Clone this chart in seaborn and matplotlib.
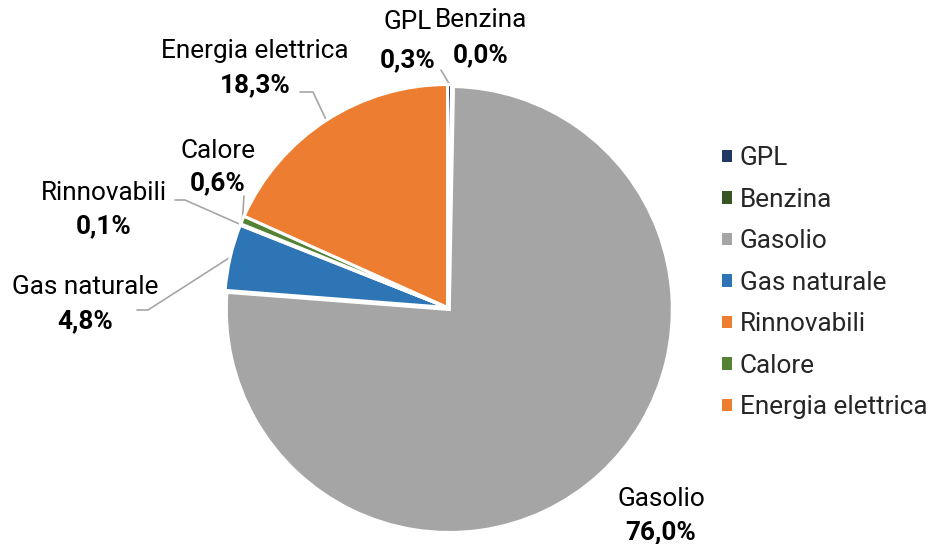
import matplotlib
matplotlib.use("Agg")
import matplotlib.pyplot as plt
import matplotlib.patches as mpatches
import numpy as np
import seaborn as sns

# Quota dei consumi energetici per fonte (%)
categories = ["GPL", "Benzina", "Gasolio", "Gas naturale", "Rinnovabili", "Calore", "Energia elettrica"]
shares = [0.3, 0.0, 76.0, 4.8, 0.1, 0.6, 18.3]
value_labels = ["0,3%", "0,0%", "76,0%", "4,8%", "0,1%", "0,6%", "18,3%"]
colors = ["#203864", "#375623", "#A5A5A5", "#2E75B6", "#ED7D31", "#548235", "#ED7D31"]

sns.set_theme(style="white")
plt.rcParams["font.family"] = ["Roboto", "DejaVu Sans"]

W, H = 933, 544
fig = plt.figure(figsize=(W / 100, H / 100), dpi=100)
cx, cy, R = 447.5, 307.5, 223  # pie centre and radius in pixels
ax = fig.add_axes([(cx - R) / W, (H - cy - R) / H, 2 * R / W, 2 * R / H])
ax.axis("off")

explode = [0.012 if c == "Gasolio" else 0 for c in categories]
wedges, _ = ax.pie(shares, colors=colors, startangle=90, counterclock=False,
                   radius=1, center=(0, 0), explode=explode,
                   wedgeprops=dict(edgecolor="white", linewidth=2.2))
ax.set_xlim(-1, 1)
ax.set_ylim(-1, 1)


def px(x, y):
    """pixel position -> data coordinates of the pie axes"""
    return (x - cx) / R, (cy - y) / R


# label layout: name centre (px), value centre (px), leader path start points (px)
layout = {
    "GPL": ((408, 22), (408, 60), [(441, 70)]),
    "Benzina": ((481, 20), (481, 55), None),
    "Gasolio": ((661, 499), (661, 532), None),
    "Gas naturale": ((85, 287), (85, 321), [(137, 310), (148, 310)]),
    "Rinnovabili": ((104, 193), (104, 226), [(175, 200), (185, 200)]),
    "Calore": ((218, 151), (218, 183), [(244, 196)]),
    "Energia elettrica": ((255, 51), (255, 85), [(300, 92), (313, 92)]),
}

fs = 18.8
for w, name, val in zip(wedges, categories, value_labels):
    (nx, ny), (vx, vy), path = layout[name]
    ax.text(*px(nx, ny), name, ha="center", va="center", fontsize=fs, color="#000000")
    ax.text(*px(vx, vy), val, ha="center", va="center", fontsize=fs, fontweight="bold", color="#000000")
    if path:
        mid = np.deg2rad((w.theta1 + w.theta2) / 2)
        ex, ey = np.cos(mid), np.sin(mid)
        xs = [px(*p)[0] for p in path] + [ex]
        ys = [px(*p)[1] for p in path] + [ey]
        ax.plot(xs, ys, color="#A6A6A6", lw=1.2, clip_on=False, zorder=0)

handles = [mpatches.Patch(facecolor=c, edgecolor="none") for c in colors]
fig.legend(handles, categories, loc="upper left", bbox_to_anchor=(712 / W, 1 - 136 / H),
           frameon=False, fontsize=fs, handlelength=0.36, handleheight=0.36,
           handletextpad=0.3, labelspacing=0.67, borderaxespad=0)

fig.savefig("out.png", dpi=100, facecolor="white")
